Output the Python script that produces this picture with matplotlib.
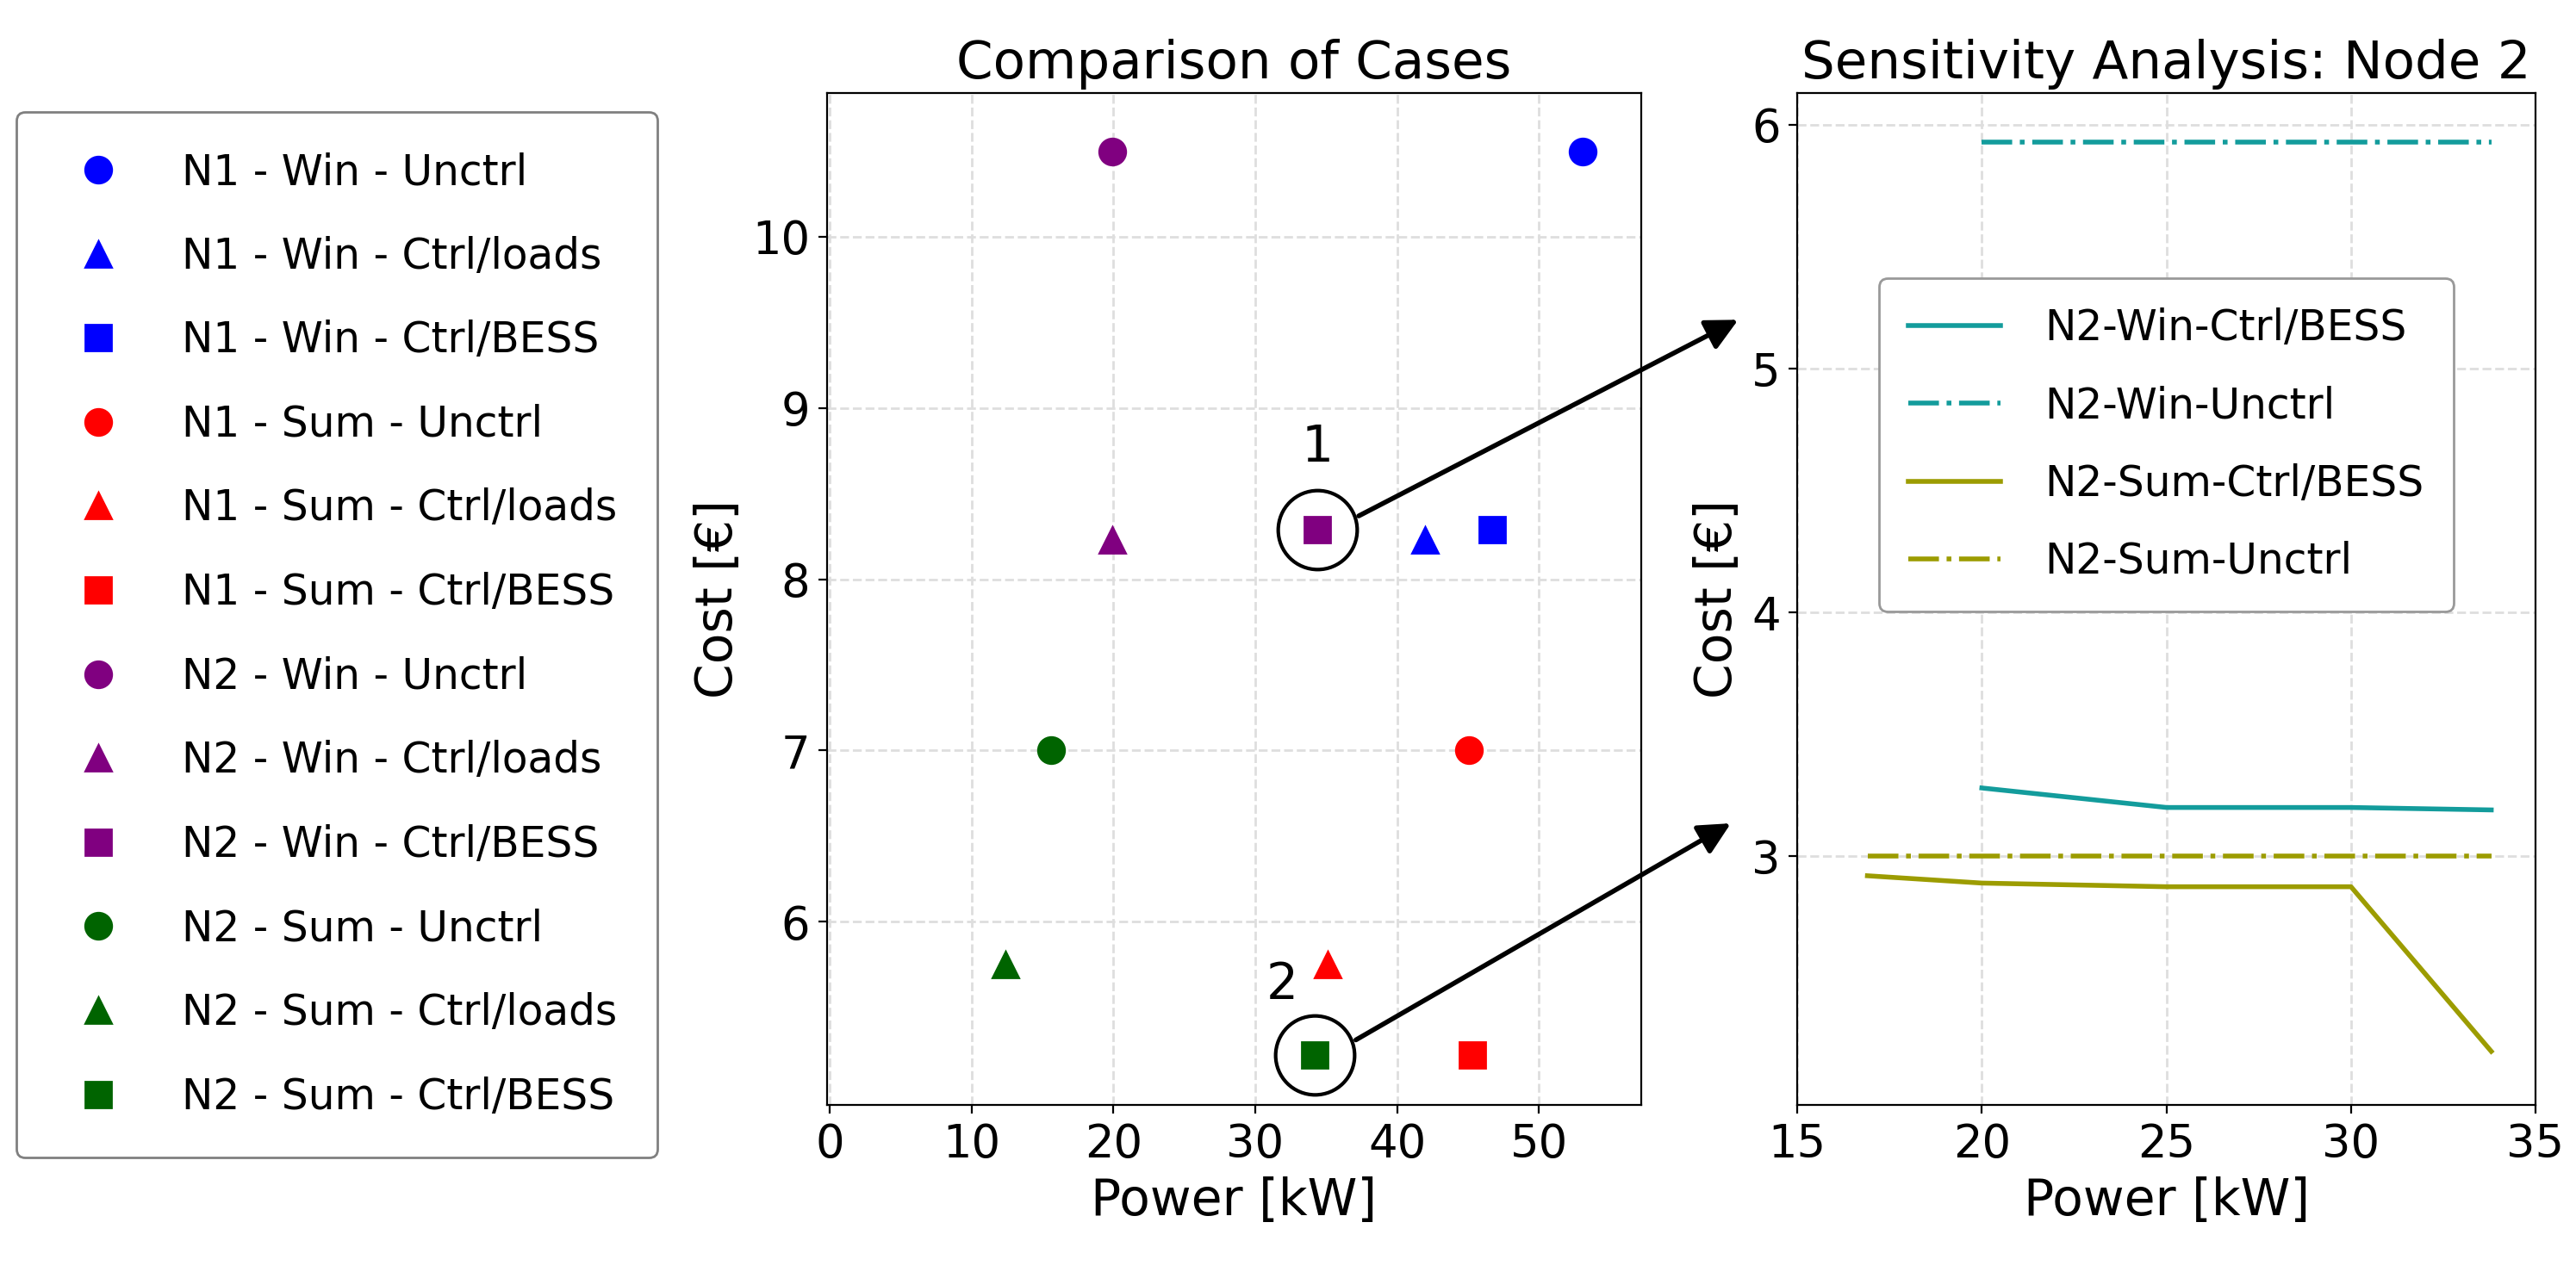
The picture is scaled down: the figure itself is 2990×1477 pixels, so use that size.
import matplotlib
matplotlib.use("Agg")
import matplotlib.pyplot as plt
from matplotlib.patches import ConnectionPatch

# --- scatter data: comparison of cases ---
case_labels = [
    "N1 - Win - Unctrl", "N1 - Win - Ctrl/loads", "N1 - Win - Ctrl/BESS",
    "N1 - Sum - Unctrl", "N1 - Sum - Ctrl/loads", "N1 - Sum - Ctrl/BESS",
    "N2 - Win - Unctrl", "N2 - Win - Ctrl/loads", "N2 - Win - Ctrl/BESS",
    "N2 - Sum - Unctrl", "N2 - Sum - Ctrl/loads", "N2 - Sum - Ctrl/BESS",
]
case_power = [53.1, 42.0, 46.7, 45.1, 35.1, 45.3, 19.9, 19.9, 34.4, 15.6, 12.4, 34.2]
case_cost = [10.5, 8.23, 8.29, 7.0, 5.75, 5.22, 10.5, 8.23, 8.29, 7.0, 5.75, 5.22]
case_colors = ["blue"] * 3 + ["red"] * 3 + ["purple"] * 3 + ["darkgreen"] * 3
case_markers = ["o", "^", "s"] * 4

# --- sensitivity analysis node 2 ---
win_power = [20, 25, 30, 33.8]
win_ctrl_bess = [3.28, 3.20, 3.20, 3.19]
win_unctrl = [5.93, 5.93, 5.93, 5.93]
sum_power = [16.9, 20, 25, 30, 33.8]
sum_ctrl_bess = [2.92, 2.89, 2.875, 2.875, 2.20]
sum_unctrl = [3.0, 3.0, 3.0, 3.0, 3.0]

teal = "#139c9c"
olive = "#9c9c00"

# highlighted cases (index into case lists) and annotation positions
highlight = [8, 11]
highlight_text = ["1", "2"]
text_pos = [(34.4, 8.77), (31.9, 5.63)]
arrow_start = [(37.3, 8.37), (37.1, 5.31)]
arrow_end = [(13.4, 5.2), (13.2, 3.135)]

fig = plt.figure(figsize=(14.95, 7.385), dpi=200)
ax1 = fig.add_axes([0.321, 0.1313, 0.316, 0.7956])
ax2 = fig.add_axes([0.6977, 0.1313, 0.2866, 0.7956])

handles = []
for x, y, c, m, lab in zip(case_power, case_cost, case_colors, case_markers, case_labels):
    h, = ax1.plot([x], [y], linestyle="none", marker=m, color=c, markersize=11, label=lab)
    handles.append(h)

for i, t, tp, a0, a1 in zip(highlight, highlight_text, text_pos, arrow_start, arrow_end):
    ax1.plot([case_power[i]], [case_cost[i]], linestyle="none", marker="o", markersize=33,
             markerfacecolor="none", markeredgecolor="black", markeredgewidth=1.5)
    ax1.text(tp[0], tp[1], t, fontsize=21, ha="center", va="center")
    con = ConnectionPatch(xyA=a0, coordsA=ax1.transData, xyB=a1, coordsB=ax2.transData,
                          arrowstyle="-|>", mutation_scale=28, lw=2, color="black")
    fig.add_artist(con)

ax1.set_xlim(-0.2, 57.2)
ax1.set_ylim(4.93, 10.84)
ax1.set_xticks([0, 10, 20, 30, 40, 50])
ax1.set_yticks([6, 7, 8, 9, 10])
ax1.set_title("Comparison of Cases", fontsize=22)
ax1.set_xlabel("Power [kW]", fontsize=21)
ax1.set_ylabel("Cost [€]", fontsize=21)
ax1.grid(True, linestyle="--", color="0.87", linewidth=1)
ax1.tick_params(labelsize=19)

ax2.plot(win_power, win_ctrl_bess, color=teal, lw=2, label="N2-Win-Ctrl/BESS")
ax2.plot(win_power, win_unctrl, color=teal, lw=2, linestyle="-.", label="N2-Win-Unctrl")
ax2.plot(sum_power, sum_ctrl_bess, color=olive, lw=2, label="N2-Sum-Ctrl/BESS")
ax2.plot(sum_power, sum_unctrl, color=olive, lw=2, linestyle="-.", label="N2-Sum-Unctrl")
ax2.set_xlim(15, 35)
ax2.set_ylim(1.98, 6.13)
ax2.set_xticks([15, 20, 25, 30, 35])
ax2.set_yticks([3, 4, 5, 6])
ax2.set_title("Sensitivity Analysis: Node 2", fontsize=22)
ax2.set_xlabel("Power [kW]", fontsize=21)
ax2.set_ylabel("Cost [€]", fontsize=21)
ax2.grid(True, linestyle="--", color="0.87", linewidth=1)
ax2.tick_params(labelsize=19)
ax2.legend(loc="upper left", bbox_to_anchor=(0.111, 0.817), borderaxespad=0, fontsize=17.5,
           handlelength=2.2, handletextpad=1.05, borderpad=0.7, labelspacing=0.87,
           edgecolor="0.6", framealpha=1)

fig.legend(handles=handles, loc="upper left", bbox_to_anchor=(0.0064, 0.912), borderaxespad=0,
           fontsize=17.5, handletextpad=1.0, borderpad=0.95, labelspacing=1.02,
           edgecolor="0.5", framealpha=1)

fig.savefig("out.png", dpi=200)
